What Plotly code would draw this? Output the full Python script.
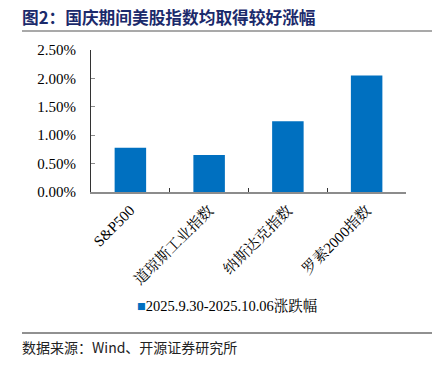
import plotly.graph_objects as go

categories = ["S&P500", "道琼斯工业指数", "纳斯达克指数", "罗素2000指数"]
values = [0.0078, 0.0065, 0.01245, 0.0205]
series_name = "2025.9.30-2025.10.06涨跌幅"
y_ticks = [0, 0.005, 0.01, 0.015, 0.02, 0.025]
title_text = "图2：国庆期间美股指数均取得较好涨幅"
source_text = "数据来源：Wind、开源证券研究所"

W, H = 439, 370
L, R, T, B = 91, 33, 50, 178
PW, PH = W - L - R, H - T - B

def px(x):
    return (x - L) / PW

def py(y):
    return (H - B - y) / PH

SERIF = "Liberation Serif, Noto Serif CJK SC, Noto Sans CJK SC, serif"
CJK = "Noto Sans CJK SC, sans-serif"
BLUE = "#0070C0"

fig = go.Figure()
fig.add_trace(go.Bar(
    x=categories, y=values, name=series_name,
    marker=dict(color=BLUE, line=dict(width=0)),
    showlegend=False,
))

fig.update_layout(
    width=W, height=H,
    margin=dict(l=L, r=R, t=T, b=B, pad=0, autoexpand=False),
    paper_bgcolor="white", plot_bgcolor="white",
    bargap=0.6,
    showlegend=False,
    font=dict(family=SERIF, size=13, color="black"),
)
fig.update_xaxes(
    automargin=False,
    showline=True, linecolor="#8c8c8c", linewidth=1.5,
    ticks="inside", tickson="boundaries", ticklen=4, tickcolor="#333333", tickwidth=1,
    tickangle=-45, tickfont=dict(family=SERIF, size=15, color="black"),
    ticklabelstandoff=2,
    showgrid=False,
)
fig.update_yaxes(
    automargin=False,
    range=[0, 0.025], tickvals=y_ticks, tickformat=".2%",
    showline=True, linecolor="#333333", linewidth=1,
    ticks="inside", ticklen=4, tickcolor="#8c8c8c", tickwidth=1,
    tickfont=dict(family=SERIF, size=15, color="black"),
    ticklabelstandoff=11,
    showgrid=False, zeroline=False,
)

# legend (drawn as text with a colored square)
fig.add_annotation(xref="paper", yref="paper", x=px(135), y=py(306), xanchor="left", yanchor="middle",
                   text=f"<span style='color:{BLUE}'>■</span>{series_name}", showarrow=False,
                   font=dict(family=SERIF, size=14.5, color="black"))

fig.add_annotation(xref="paper", yref="paper", x=px(20), y=py(17), xanchor="left", yanchor="middle",
                   text="<b>" + title_text + "</b>", showarrow=False,
                   font=dict(family=CJK, size=16.7, color="#1B2A6B"))
fig.add_shape(type="line", xref="paper", yref="paper", x0=px(22), x1=px(432), y0=py(31), y1=py(31),
              line=dict(color="#8c8c8c", width=1.5))
fig.add_shape(type="line", xref="paper", yref="paper", x0=px(22), x1=px(432), y0=py(333), y1=py(333),
              line=dict(color="#222222", width=1))
fig.add_annotation(xref="paper", yref="paper", x=px(20), y=py(347), xanchor="left", yanchor="middle",
                   text=source_text, showarrow=False,
                   font=dict(family=CJK, size=14, color="#222222"))

fig.write_html("out.html", config={"displayModeBar": False},
               post_script="document.body.style.margin='0';document.body.style.overflow='hidden';")
